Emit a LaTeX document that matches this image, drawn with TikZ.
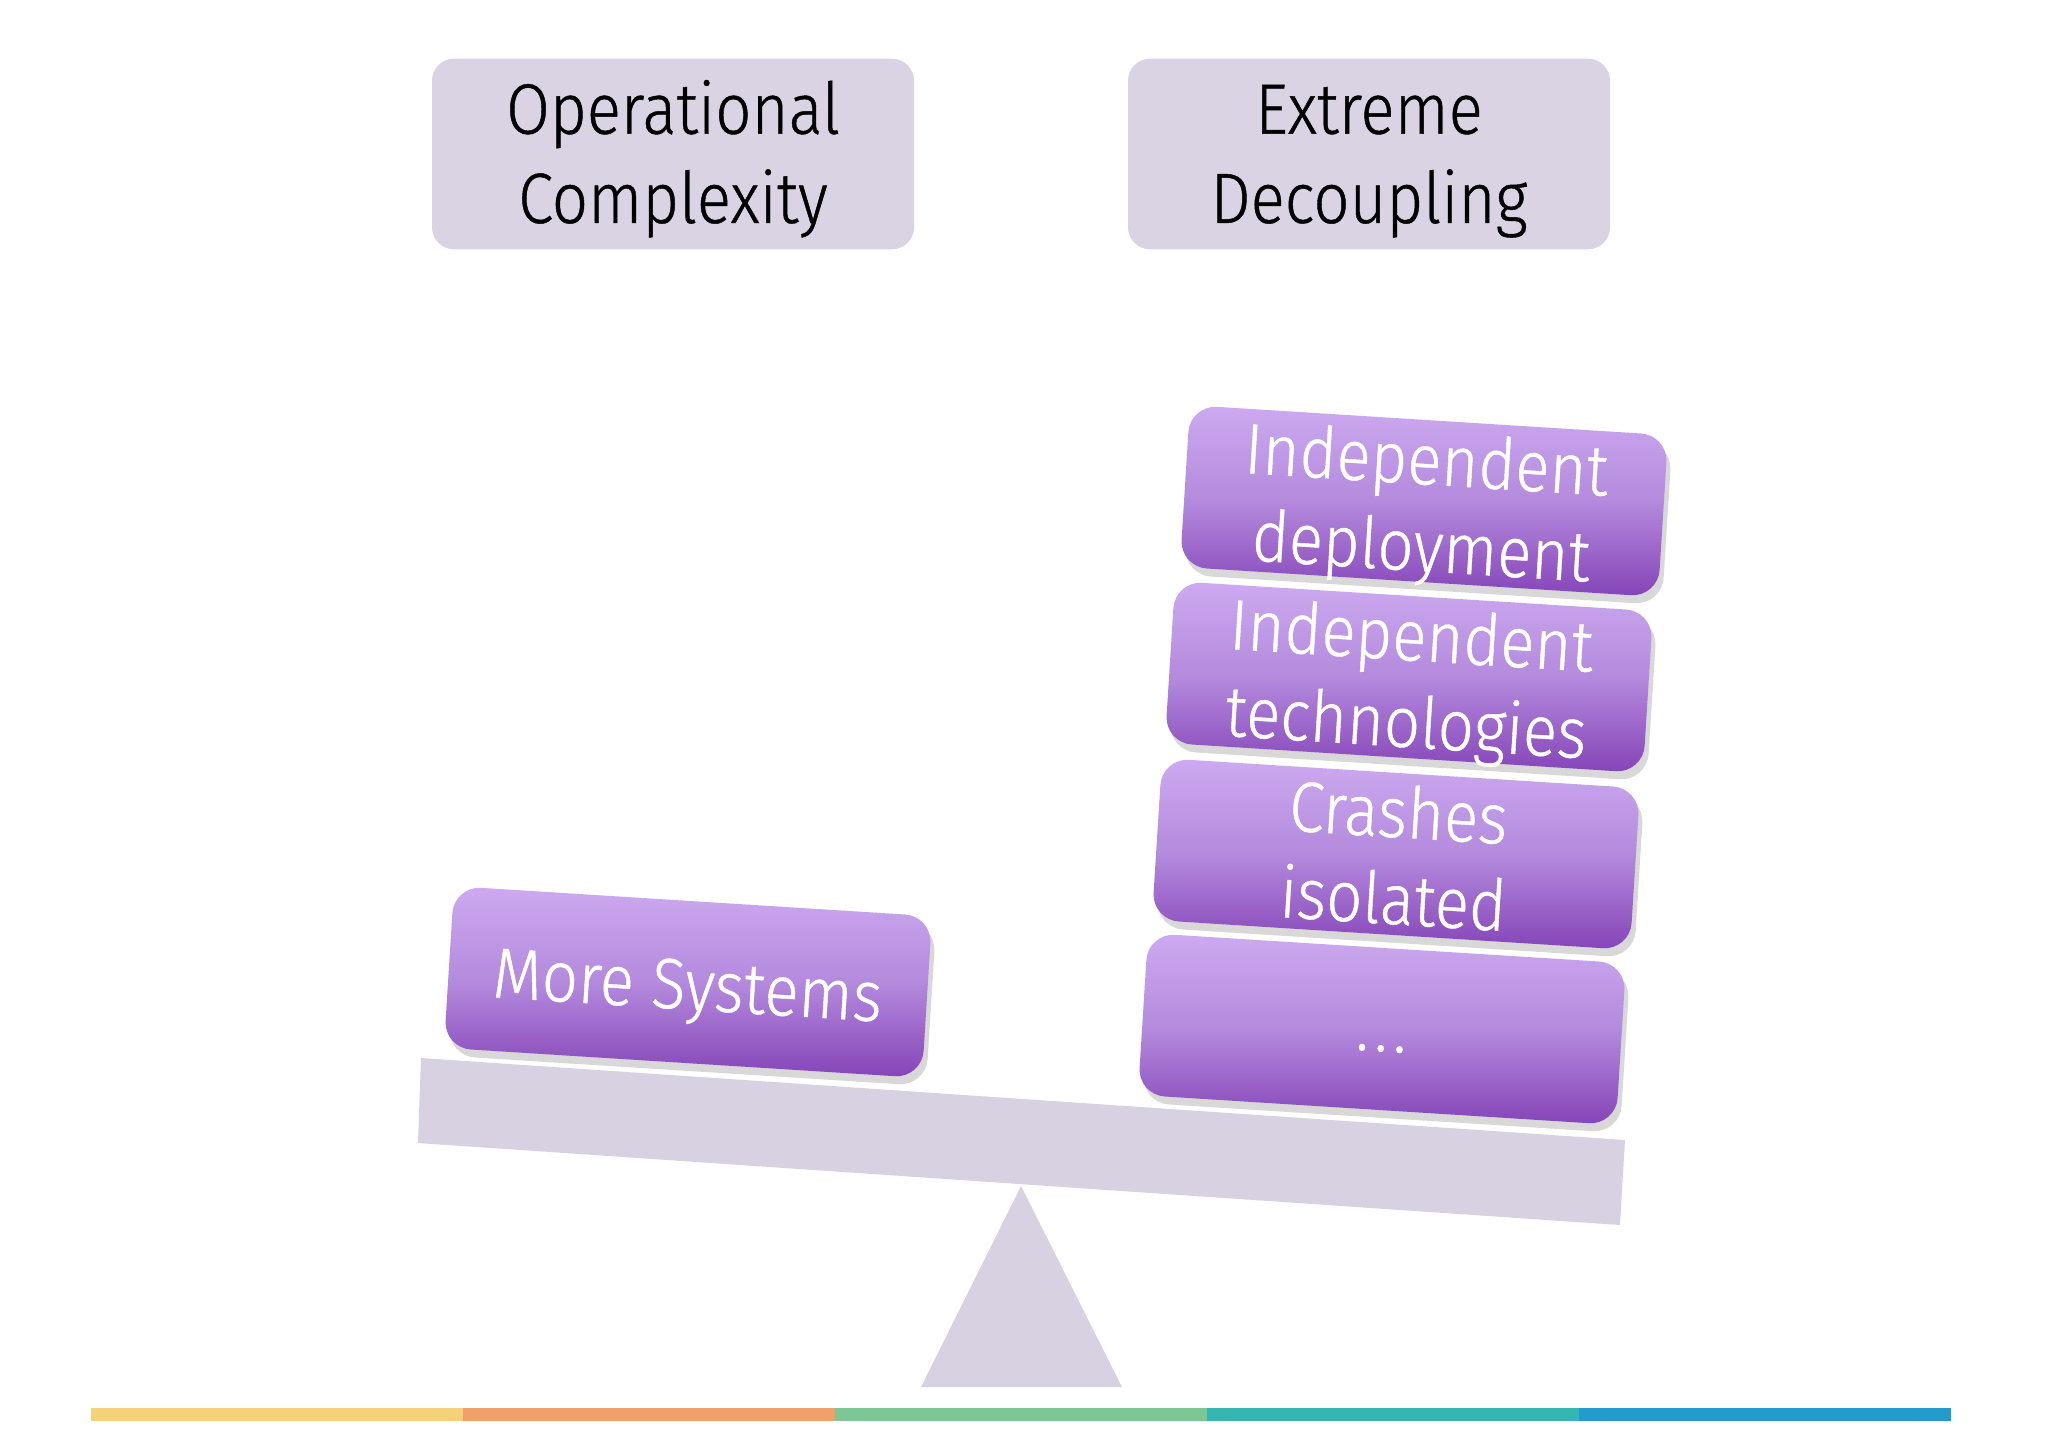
\documentclass[tikz,border=0pt]{standalone}
\usepackage{fontspec}
\setmainfont{Fira Sans}[FakeStretch=0.89, UprightFont=* Light, FakeBold=0.6]
\usetikzlibrary{shadows}

\definecolor{panelgray}{HTML}{D9D3E3}
\definecolor{beamgray}{HTML}{D8D1E2}
\definecolor{purpletop}{HTML}{CCAAF0}
\definecolor{purplemid}{HTML}{B48ADD}
\definecolor{purplebot}{HTML}{8544B8}
\definecolor{stripeA}{HTML}{F3D27A}
\definecolor{stripeB}{HTML}{F0A068}
\definecolor{stripeC}{HTML}{7EC795}
\definecolor{stripeD}{HTML}{35B6B0}
\definecolor{stripeE}{HTML}{229BCF}

% fixed line metrics, so every box centres its text alike
\newcommand{\firstln}[2][15.2pt]{\rule{0pt}{#1}#2}
\newcommand{\lastln}[1]{\raisebox{0pt}[\height][0pt]{#1}}

\tikzset{
  heading/.style={fill=panelgray, rounded corners=0.22cm, minimum width=4.82cm,
    minimum height=1.90cm, align=center, font=\fontsize{20.3}{25.4}\selectfont},
  weight/.style={top color=purpletop, bottom color=purplebot, middle color=purplemid,
    rounded corners=0.27cm, minimum width=4.79cm, minimum height=1.62cm, inner ysep=0pt,
    align=center, text=white, font=\fontsize{20.3}{24.7}\selectfont, rotate=-3.6,
    drop shadow={shadow xshift=0.4mm, shadow yshift=-0.8mm, opacity=0.25, fill=black!60}},
  oneline/.style={text height=#1, text depth=4.4pt}
}

\begin{document}
\begin{tikzpicture}
		\useasboundingbox[fill=white] (0,0) rectangle (20.48,-14.48);
		
		\node[heading] (ops) at (6.73,-1.54) {\firstln[18pt]{Operational}\\Complexity};
		\node[heading] (dec) at (13.69,-1.54) {\firstln[18pt]{Extreme}\\Decoupling};
		
		% seesaw
		\fill[beamgray] (10.21,-11.86) -- (9.21,-13.87) -- (11.22,-13.87) -- cycle;
		\fill[beamgray] (4.21,-10.58) -- (4.18,-11.43) -- (16.20,-12.25) -- (16.25,-11.40) -- cycle;
		
		\node[weight, oneline=20pt] (more) at (6.88,-9.82) {More Systems};
		\node[weight] (deploy) at (14.24,-5.01) {\firstln{Independent}\\\lastln{deployment}};
		\node[weight] (tech) at (14.09,-6.77) {\firstln{Independent}\\\lastln{technologies}};
		\node[weight] (crash) at (13.96,-8.54) {\firstln{Crashes}\\\lastln{isolated}};
		\node[weight, oneline=17pt] (etc) at (13.82,-10.29) {.\kern1.6pt.\kern1.6pt.};
		
		\foreach \c [count=\i from 0] in {stripeA,stripeB,stripeC,stripeD,stripeE}
			\fill[\c] (0.91+3.72*\i,-14.08) rectangle (4.63+3.72*\i,-14.21);
		
	\end{tikzpicture}
\end{document}
